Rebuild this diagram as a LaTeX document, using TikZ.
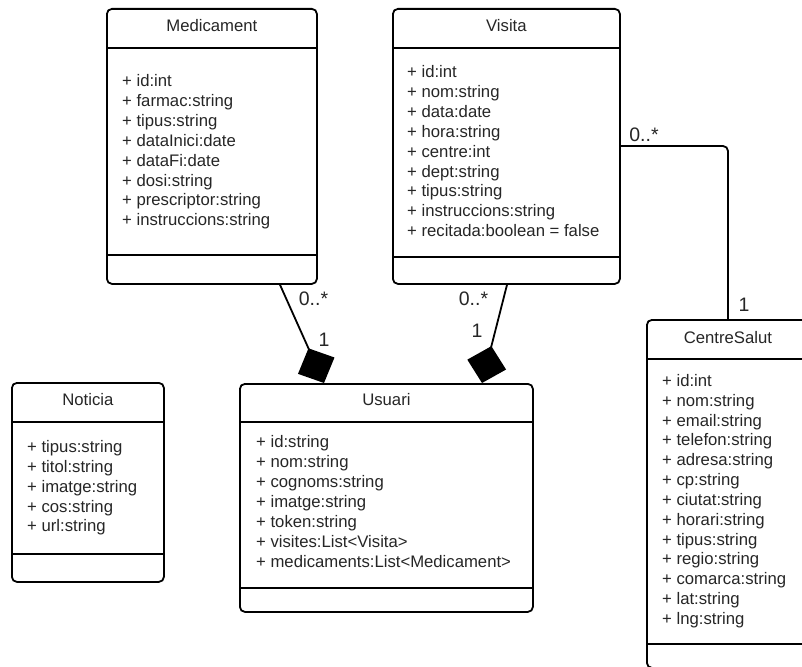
\documentclass[tikz,border=0pt]{standalone}
\usepackage{fontspec}
\setmainfont{Liberation Sans}
\usetikzlibrary{arrows.meta,calc}
\begin{document}
\begin{tikzpicture}[x=1pt,y=-1pt,
  ink/.style={line width=1.8pt, draw=black},
  classbox/.style={ink, rounded corners=5pt, fill=white, inner sep=0pt, anchor=north west},
  cname/.style={font=\fontsize{16.7}{20}\selectfont, text=black!85, inner sep=0pt, anchor=base},
  attr/.style={font=\fontsize{16.7}{20}\selectfont, text=black!85, inner sep=0pt, anchor=base west},
  mult/.style={font=\fontsize{19.5}{22}\selectfont, text=black!85, inner sep=0pt},
  compose/.style={ink, {Diamond[length=38pt,width=40pt]}-},
  assoc/.style={ink, rounded corners=5pt},
]
\useasboundingbox (0,0) rectangle (802,666);
\clip (0,0) rectangle (802,666);
\fill[white] (0,0) rectangle (802,666);

% ---------- class boxes ----------
\node[classbox, minimum width=210pt, minimum height=275pt] (med) at (106,8) {};
\node[classbox, minimum width=227pt, minimum height=275pt] (vis) at (392,8) {};
\node[classbox, minimum width=152pt, minimum height=199pt] (news) at (11,382) {};
\node[classbox, minimum width=293pt, minimum height=228pt] (usr) at (239,383) {};
\node[classbox, minimum width=162pt, minimum height=348pt] (cs) at (646,319) {};

% compartment separators
\foreach \b/\s/\t in {med/40/247, vis/40/249, news/40/172, usr/39/205, cs/40/325} {
  \draw[ink] ($(\b.north west)+(0,\s)$) -- ($(\b.north east)+(0,\s)$);
  \draw[ink] ($(\b.north west)+(0,\t)$) -- ($(\b.north east)+(0,\t)$);
}

% ---------- class names ----------
\node[cname] (med-name) at ($(med.north)+(0,24)$) {Medicament};
\node[cname] (vis-name) at ($(vis.north)+(0,24)$) {Visita};
\node[cname] (news-name) at ($(news.north)+(0,23)$) {Noticia};
\node[cname] (usr-name) at ($(usr.north)+(0,22)$) {Usuari};
\node[cname] (cs-name) at ($(cs.north)+(0,24)$) {CentreSalut};

% ---------- attributes ----------
\foreach \t [count=\i from 0] in {+ id:int, + farmac:string, + tipus:string,
    + dataInici:date, + dataFi:date, + dosi:string, + prescriptor:string,
    + instruccions:string}
  \node[attr] (med-a\i) at ($(med.north west)+(16,78.5+19.9*\i)$) {\t};

\foreach \t [count=\i from 0] in {+ id:int, + nom:string, + data:date,
    + hora:string, + centre:int, + dept:string, + tipus:string,
    + instruccions:string, + recitada:boolean = false}
  \node[attr] (vis-a\i) at ($(vis.north west)+(15,69.5+19.9*\i)$) {\t};

\foreach \t [count=\i from 0] in {+ tipus:string, + titol:string,
    + imatge:string, + cos:string, + url:string}
  \node[attr] (news-a\i) at ($(news.north west)+(16,70.5+19.85*\i)$) {\t};

\foreach \t [count=\i from 0] in {+ id:string, + nom:string, + cognoms:string,
    + imatge:string, + token:string, + visites:List<Visita>,
    + medicaments:List<Medicament>}
  \node[attr] (usr-a\i) at ($(usr.north west)+(17,64.5+20*\i)$) {\t};

\foreach \t [count=\i from 0] in {+ id:int, + nom:string, + email:string,
    + telefon:string, + adresa:string, + cp:string, + ciutat:string,
    + horari:string, + tipus:string, + regio:string, + comarca:string,
    + lat:string, + lng:string}
  \node[attr] (cs-a\i) at ($(cs.north west)+(16,67.5+19.83*\i)$) {\t};

% ---------- relations ----------
\draw[compose] ($(usr.north west)+(85,0)$) -- ($(med.south west)+(174,0)$);
\draw[compose] ($(usr.north west)+(243,0)$) -- ($(vis.south west)+(115,0)$);
\draw[assoc] ($(vis.north east)+(0,138)$) -| ($(cs.north west)+(82,0)$);

% ---------- multiplicities ----------
\node[mult] (med-many) at (313.5,299) {0..*};
\node[mult] (med-one) at (324,340) {1};
\node[mult] (vis-many) at (473.5,299) {0..*};
\node[mult] (vis-one) at (477,331) {1};
\node[mult] (cs-many) at (644,135) {0..*};
\node[mult] (cs-one) at (744,305) {1};
\end{tikzpicture}
\end{document}
